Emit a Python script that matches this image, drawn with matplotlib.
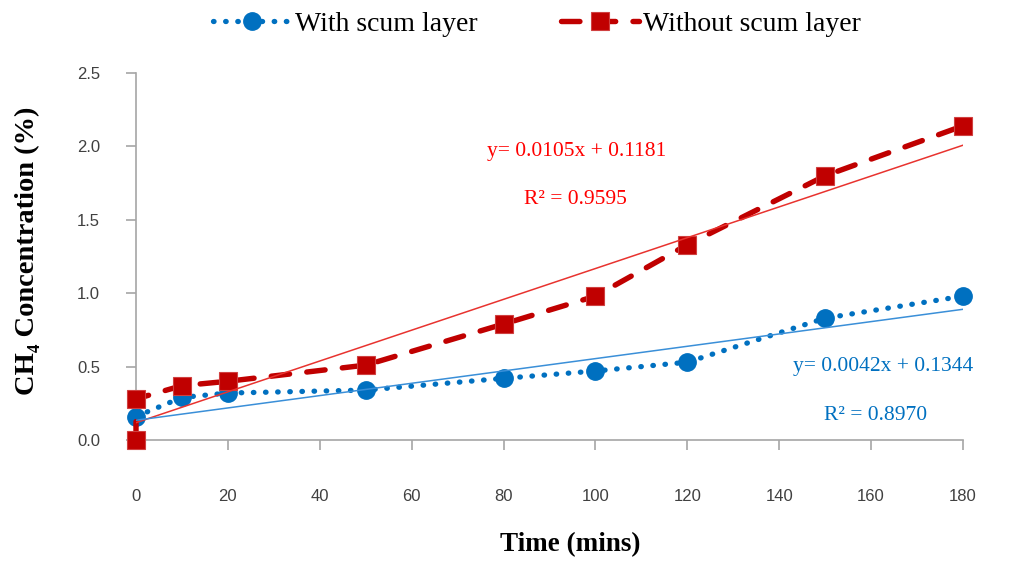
import matplotlib
matplotlib.use("Agg")
import matplotlib.pyplot as plt
import numpy as np

# Sampling times (mins) and CH4 concentration (%)
time_with = [0, 10, 20, 50, 80, 100, 120, 150, 180]
ch4_with = [0.16, 0.29, 0.32, 0.34, 0.42, 0.47, 0.53, 0.83, 0.98]

time_without = [0, 0, 10, 20, 50, 80, 100, 120, 150, 180]
ch4_without = [0.00, 0.28, 0.37, 0.40, 0.51, 0.79, 0.98, 1.33, 1.80, 2.14]

# Linear trend coefficients (slope, intercept, R^2)
fit_with = (0.0042, 0.1344, 0.8970)
fit_without = (0.0105, 0.1181, 0.9595)

x_ticks = [0, 20, 40, 60, 80, 100, 120, 140, 160, 180]
y_ticks = [0.0, 0.5, 1.0, 1.5, 2.0, 2.5]

BLUE = "#0070C0"
RED = "#C00000"
SERIF = ["Liberation Serif", "DejaVu Serif"]
SANS = ["Liberation Sans", "DejaVu Sans"]

W, H = 1009, 563
fig = plt.figure(figsize=(W / 100, H / 100), dpi=100)
ax = fig.add_axes([136 / W, 1 - 440 / H, (963 - 136) / W, (440 - 73) / H])

ax.plot(time_with, ch4_with, color=BLUE, linestyle=(0, (0.1, 2.2)),
        linewidth=3.8, dash_capstyle="round", marker="o", markersize=12.5,
        markerfacecolor=BLUE, markeredgecolor=BLUE, label="With scum layer",
        zorder=3, clip_on=False)
ax.plot(time_without, ch4_without, color=RED, linestyle=(0, (3.4, 3.2)),
        linewidth=3.9, dash_capstyle="round", marker="s", markersize=12.5,
        markerfacecolor=RED, markeredgecolor="#D04040", markeredgewidth=0.8,
        label="Without scum layer", zorder=4, clip_on=False)

# Trend lines drawn from the fitted coefficients
xs = np.array([0, 180])
ax.plot(xs, fit_without[0] * xs + fit_without[1], color="#E8332F",
        linewidth=1.1, zorder=5)
ax.plot(xs, fit_with[0] * xs + fit_with[1], color="#3A8FD8",
        linewidth=1.1, zorder=5)

# Equation labels beside the trend lines (figure pixel positions)
labels = [
    ((577, 152), f"y= {fit_without[0]:.4f}x + {fit_without[1]:.4f}", "#FF0000"),
    ((575, 200), f"R\u00b2 = {fit_without[2]:.4f}", "#FF0000"),
    ((883, 367), f"y= {fit_with[0]:.4f}x + {fit_with[1]:.4f}", BLUE),
    ((876, 415), f"R\u00b2 = {fit_with[2]:.4f}", BLUE),
]
for (px, py), txt, col in labels:
    fig.text(px / W, 1 - py / H, txt, color=col, fontsize=15.5,
             family=SERIF, ha="center", va="center")

ax.set_xlim(0, 180)
ax.set_ylim(0, 2.5)
ax.set_xticks(x_ticks)
ax.set_yticks(y_ticks)
ax.set_yticklabels([f"{v:.1f}" for v in y_ticks])

for side in ("top", "right"):
    ax.spines[side].set_visible(False)
for side in ("left", "bottom"):
    ax.spines[side].set_color("#A6A6A6")
    ax.spines[side].set_linewidth(1.2)

ax.tick_params(axis="both", colors="#A6A6A6", length=7, width=1.2,
               labelcolor="#404040", labelsize=12)
ax.tick_params(axis="x", pad=28)
ax.tick_params(axis="y", pad=19)
for lab in ax.get_xticklabels() + ax.get_yticklabels():
    lab.set_family(SANS)

ax.set_xlabel("Time (mins)", fontsize=19.5, fontweight="bold", family=SERIF)
ax.xaxis.set_label_coords((570 - 136) / (963 - 136), -0.25)
ax.set_ylabel("CH\u2084 Concentration (%)", fontsize=20.5, fontweight="bold",
              family=SERIF)
ax.yaxis.set_label_coords(-0.116, 0.515)

fig.legend(loc="center", bbox_to_anchor=(0.532, 0.957), ncol=2,
           frameon=False, prop={"family": SERIF, "size": 20},
           handlelength=2.8, columnspacing=3.0, handletextpad=0.15)

fig.savefig("out.png", dpi=100)
